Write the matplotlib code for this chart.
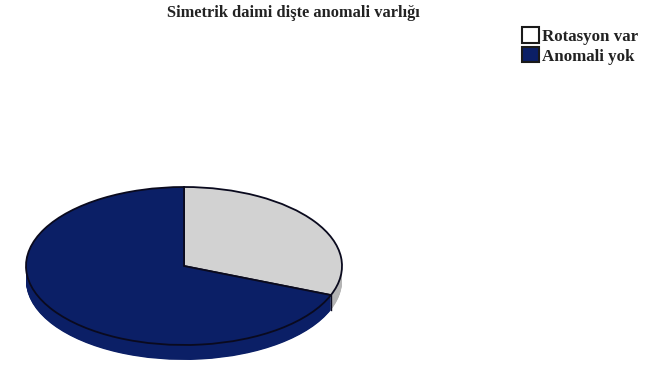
import numpy as np
import matplotlib
matplotlib.use("Agg")
import matplotlib.pyplot as plt
from matplotlib.patches import Patch

title = "Simetrik daimi dişte anomali varlığı"
labels = ["Rotasyon var", "Anomali yok"]
values = [31, 69]
top_colors = ["#d2d2d2", "#0b1f66"]
side_colors = ["#b4b4b4", "#0b1f66"]
depth = 15 / 79
serif = ["Liberation Serif", "DejaVu Serif"]

fig = plt.figure(figsize=(6.62, 3.65), dpi=100, facecolor="white")
ax = fig.add_axes([26 / 662, 20 / 365, 316 / 662, 158 / 365])

# side wall: stacked copies of the pie going downward
for off in np.linspace(depth, 0.005, 24):
    ax.pie(values, colors=side_colors, startangle=90, counterclock=False, radius=1,
           center=(0, -off),
           wedgeprops=dict(linewidth=0, edgecolor="none", clip_on=False))

# top face
ax.pie(values, colors=top_colors, startangle=90, counterclock=False, radius=1,
       center=(0, 0),
       wedgeprops=dict(linewidth=1.3, edgecolor="#0a0a1e", clip_on=False))

# vertical edge at the slice boundary
angle = np.deg2rad(90 - 360 * values[0] / sum(values))
ax.plot([np.cos(angle)] * 2, [np.sin(angle), np.sin(angle) - depth],
        color="#0a0a1e", lw=1.0, clip_on=False, zorder=5)

ax.set_aspect("auto")
ax.set_xlim(-1, 1)
ax.set_ylim(-1, 1)
ax.axis("off")

fig.text(293 / 662, 1 - 13 / 365, title, ha="center", va="center",
         family=serif, fontweight="bold", fontsize=11.8, color="#222222")

handles = [Patch(facecolor=c, edgecolor="#1a1a1a", linewidth=1.5) for c in ["white", top_colors[1]]]
fig.legend(handles, labels, loc="upper left", bbox_to_anchor=(519 / 662, 1 - 24 / 365),
           frameon=False, prop=dict(family=serif, weight="bold", size=12.2),
           handlelength=1.0, handleheight=1.0, handletextpad=0.15,
           labelspacing=0.15, borderpad=0.2, borderaxespad=0, labelcolor="#222222")

fig.savefig("out.png", dpi=100, facecolor="white")
